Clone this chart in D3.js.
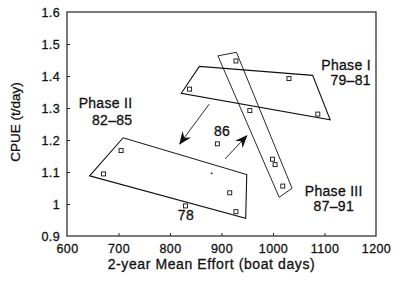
<!DOCTYPE html>
<html>
<head>
<meta charset="utf-8">
<script src="https://cdn.jsdelivr.net/npm/d3@7"></script>
<style>
  body { margin: 0; background: #fff; }
  text { font-family: "Liberation Sans", Arial, sans-serif; fill: #111; stroke: #111; stroke-width: 0.3px; }
</style>
</head>
<body>
<div id="chart"></div>
<script>
// Розміри
const WIDTH = 400;
const HEIGHT = 284;
const margin = { top: 12, right: 24, bottom: 48, left: 67 };

// Точки (зусилля, CPUE)
const effort = [838, 1031, 1087, 928, 955, 999, 1004, 1019, 892, 705, 671, 830, 916, 928];
const cpue = [1.359, 1.392, 1.281, 1.447, 1.292, 1.140, 1.123, 1.056, 1.188, 1.167, 1.094, 0.994, 1.035, 0.976];

// Окрема дрібна крапка
const dotPoint = [881, 1.096];

// Контури фаз
const phaseI = [[822, 1.346], [857, 1.430], [1077, 1.402], [1111, 1.263]];
const phaseII = [[644, 1.088], [709, 1.207], [949, 1.092], [947, 0.955]];
const phaseIII = [[893, 1.463], [929, 1.474], [1037, 1.049], [1012, 1.021]];

// Стрілки
const arrows = [
    [[876, 1.312], [819, 1.188]],
    [[907, 1.141], [949, 1.213]]
];

// Підписи: текст, x, y (в одиницях даних), вирівнювання
const labels = [
    ["Phase I", 1190, 1.420, "end"],
    ["79–81", 1190, 1.372, "end"],
    ["Phase II", 727, 1.301, "end"],
    ["82–85", 727, 1.248, "end"],
    ["86", 901, 1.212, "middle"],
    ["78", 831, 0.950, "middle"],
    ["Phase III", 1118, 1.025, "middle"],
    ["87–91", 1118, 0.978, "middle"]
];

const xTicks = [600, 700, 800, 900, 1000, 1100, 1200];
const yTicks = [0.9, 1.0, 1.1, 1.2, 1.3, 1.4, 1.5, 1.6];

const svg = d3.select('#chart')
    .append('svg')
    .attr('width', WIDTH)
    .attr('height', HEIGHT);

const w = WIDTH - margin.left - margin.right;
const h = HEIGHT - margin.top - margin.bottom;

const x = d3.scaleLinear().domain([600, 1200]).range([0, w]);
const y = d3.scaleLinear().domain([0.9, 1.6]).range([h, 0]);

const g = svg.append('g')
    .attr('transform', `translate(${margin.left},${margin.top})`);

// Осі з внутрішніми рисками
const xAxis = d3.axisBottom(x).tickValues(xTicks).tickSize(-3).tickPadding(8)
    .tickFormat(d3.format('d'));
const yAxis = d3.axisLeft(y).tickValues(yTicks).tickSize(-3).tickPadding(7)
    .tickFormat(d => d === 1 ? '1' : d3.format('.1f')(d));

const gx = g.append('g').attr('transform', `translate(0,${h})`).call(xAxis);
const gy = g.append('g').call(yAxis);
[gx, gy].forEach(a => {
    a.select('.domain').remove();
    a.selectAll('line').attr('stroke', '#222');
    a.selectAll('text')
        .style('font-size', '12.5px')
        .style('letter-spacing', '0.4px')
        .attr('fill', '#111');
});
gx.selectAll('.tick').filter(d => d === 600 || d === 1200).select('line').remove();
gy.selectAll('.tick').filter(d => d === 0.9 || d === 1.6).select('line').remove();

// Рамка
g.append('rect')
    .attr('width', w).attr('height', h)
    .attr('fill', 'none').attr('stroke', '#222').attr('stroke-width', 1.2);

// Контури фаз
const line = d3.line().x(d => x(d[0])).y(d => y(d[1])).curve(d3.curveLinearClosed);
[phaseI, phaseII, phaseIII].forEach((p, i) => {
    g.append('path')
        .attr('d', line(p))
        .attr('fill', 'none')
        .attr('stroke', '#111')
        .attr('stroke-width', i === 2 ? 0.9 : 1.1);
});

// Стрілки
svg.append('defs').append('marker')
    .attr('id', 'head')
    .attr('viewBox', '0 0 12 10')
    .attr('refX', 11).attr('refY', 5)
    .attr('markerWidth', 13).attr('markerHeight', 11)
    .attr('markerUnits', 'userSpaceOnUse')
    .attr('orient', 'auto')
    .append('path')
    .attr('d', 'M0,0 L12,5 L0,10 L4,5 Z')
    .attr('fill', '#111');

arrows.forEach(a => {
    g.append('line')
        .attr('x1', x(a[0][0])).attr('y1', y(a[0][1]))
        .attr('x2', x(a[1][0])).attr('y2', y(a[1][1]))
        .attr('stroke', '#111').attr('stroke-width', 0.9)
        .attr('marker-end', 'url(#head)');
});

// Точки
g.selectAll('.pt')
    .data(effort.map((e, i) => [e, cpue[i]]))
    .enter().append('rect')
    .attr('class', 'pt')
    .attr('x', d => x(d[0]) - 2)
    .attr('y', d => y(d[1]) - 2)
    .attr('width', 4).attr('height', 4)
    .attr('fill', 'none').attr('stroke', '#111').attr('stroke-width', 0.9);

g.append('circle')
    .attr('cx', x(dotPoint[0])).attr('cy', y(dotPoint[1]))
    .attr('r', 0.9).attr('fill', '#111');

// Підписи
g.selectAll('.lbl')
    .data(labels)
    .enter().append('text')
    .attr('class', 'lbl')
    .attr('x', d => x(d[1]))
    .attr('y', d => y(d[2]))
    .attr('text-anchor', d => d[3])
    .style('font-size', '14px')
    .style('letter-spacing', '0.3px')
    .text(d => d[0]);

// Назви осей
svg.append('text')
    .attr('x', margin.left + w / 2 - 10)
    .attr('y', 269)
    .attr('text-anchor', 'middle')
    .style('font-size', '14px')
    .style('letter-spacing', '0.6px')
    .text('2-year Mean Effort (boat days)');

svg.append('text')
    .attr('transform', `translate(20,122) rotate(-90)`)
    .attr('text-anchor', 'middle')
    .style('font-size', '13.5px')
    .text('CPUE (t/day)');
</script>
</body>
</html>
